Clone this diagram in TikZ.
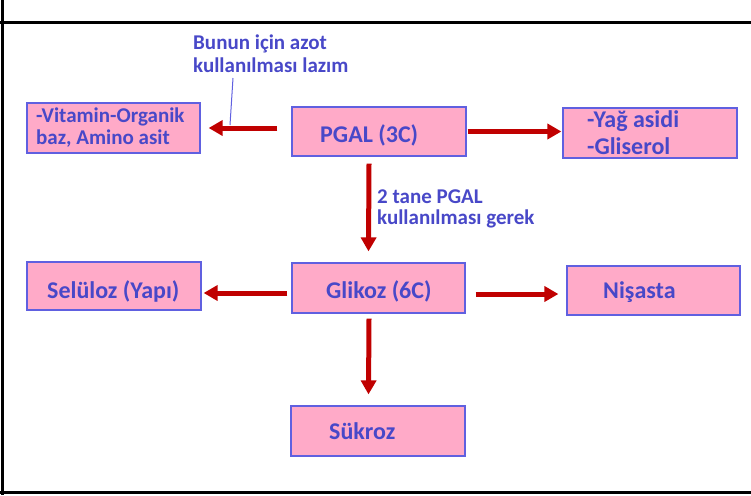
\documentclass[tikz,border=0pt]{standalone}
\usepackage{fontspec}
\setmainfont{Carlito}
\usetikzlibrary{arrows.meta}
\definecolor{boxfill}{RGB}{255,170,200}
\definecolor{boxline}{RGB}{96,96,224}
\definecolor{txtblue}{RGB}{72,72,200}
\definecolor{arrred}{RGB}{192,0,0}
\tikzset{
  box/.style={draw=boxline, line width=1.2pt, fill=boxfill, rectangle, inner sep=0pt},
  txt/.style={anchor=base west, inner sep=0pt, text=txtblue, font=\bfseries\fontsize{24}{28}\selectfont},
  smalltxt/.style={anchor=base west, inner sep=0pt, text=txtblue, font=\bfseries\fontsize{21}{25}\selectfont},
  arr/.style={draw=arrred, line width=5pt, -{Triangle[width=15pt,length=14pt]}},
  frame/.style={line width=3pt, black},
}
\begin{document}
\begin{tikzpicture}[x=1pt,y=-1pt]
\useasboundingbox (0,0) rectangle (751,495);
% frame
\draw[frame] (2.5,0) -- (2.5,495);
\draw[frame] (0,23) -- (751,23);
\draw[frame] (0,492.5) -- (751,492.5);
% boxes
\node[box, minimum width=173pt, minimum height=50pt] (vit) at (113.5,128) {};
\node[box, minimum width=174pt, minimum height=49pt] (pgal) at (379,131.5) {};
\node[box, minimum width=174pt, minimum height=50pt] (yag) at (650,133) {};
\node[box, minimum width=173pt, minimum height=50pt] (glikoz) at (378.5,288) {};
\node[box, minimum width=174pt, minimum height=48pt] (sel) at (114,286) {};
\node[box, minimum width=173pt, minimum height=49pt] (nis) at (653.5,290.5) {};
\node[box, minimum width=174pt, minimum height=50pt] (suk) at (378,431) {};
% texts
\node[smalltxt] (vit1) at (36,122) {-Vitamin-Organik};
\node[smalltxt] (vit2) at (36,144) {baz, Amino asit};
\node[txt] (pgalt) at (320,142) {PGAL (3C)};
\node[txt] (yag1) at (587,127) {-Yağ asidi};
\node[txt] (yag2) at (587,154) {-Gliserol};
\node[smalltxt] (ann1) at (193,49) {Bunun için azot};
\node[smalltxt] (ann2) at (193,72) {kullanılması lazım};
\node[smalltxt] (lab1) at (377,203) {2 tane PGAL};
\node[smalltxt] (lab2) at (377,224) {kullanılması gerek};
\node[txt] (selt) at (47,298) {Selüloz (Yapı)};
\node[txt] (glit) at (326,298) {Glikoz (6C)};
\node[txt] (nist) at (603,298) {Nişasta};
\node[txt] (sukt) at (329,439) {Sükroz};
% annotation pointer
\coordinate (annA) at (233,78);
\coordinate (annB) at (230,125);
\draw[boxline, line width=1pt] (annA) -- (annB);
% arrows
\draw[arr] ([xshift=-14pt]pgal.west |- vit.east) -- ([xshift=8pt]vit.east);
\draw[arr] ([xshift=1pt]pgal.east) -- ([xshift=-1pt]pgal.east -| yag.west);
\draw[arr] ([xshift=-10pt,yshift=-7pt]pgal.south) -- ([xshift=-10pt,yshift=11pt]glikoz.north);
\draw[arr] ([xshift=-4pt,yshift=-5pt]glikoz.west) -- ([xshift=2pt,yshift=-5pt]glikoz.west -| sel.east);
\draw[arr] ([xshift=10pt,yshift=-6pt]glikoz.east) -- ([xshift=-8pt,yshift=-6pt]glikoz.east -| nis.west);
\draw[arr] ([xshift=-9.5pt,yshift=-5pt]glikoz.south) -- ([xshift=-9.5pt,yshift=11pt]suk.north);
\end{tikzpicture}
\end{document}
